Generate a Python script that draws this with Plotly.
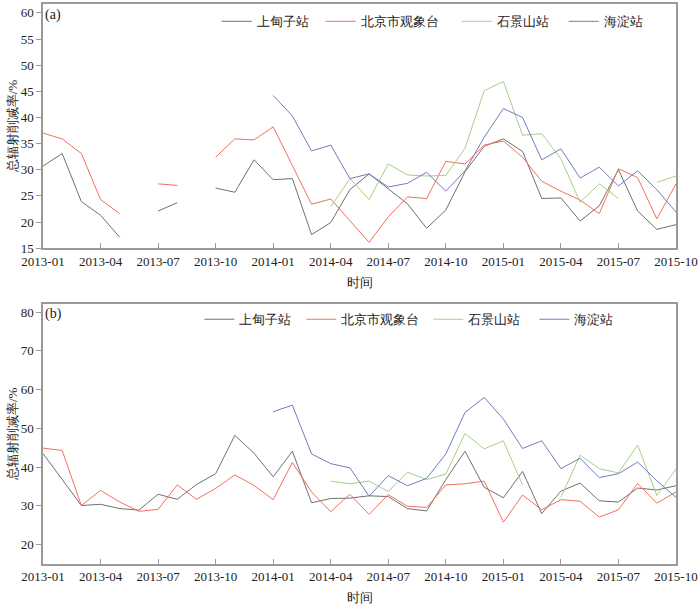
import plotly.graph_objects as go

months = [f"{y}-{m:02d}" for y in (2013, 2014, 2015) for m in range(1, 13)][:34]
tick_labels = months[::3]

names = ["上甸子站", "北京市观象台", "石景山站", "海淀站"]
colors = ["#707070", "#f2705c", "#a6cf86", "#7679bd"]

N = None
# panel (a)
a_sdz = [30.7, 33.1, 23.9, 21.3, 17.1, N, 22.1, 23.7, N, 26.5, 25.7, 31.9,
         28.1, 28.3, 17.6, 19.9, 26.2, 29.2, 26.4, 23.5, 18.8, 22.3, 29.6, 34.5,
         35.9, 33.5, 24.5, 24.6, 20.2, 23.1, 30.0, 22.1, 18.6, 19.5]
a_bj = [37.0, 35.9, 33.1, 24.3, 21.6, N, 27.3, 27.0, N, 32.4, 35.9, 35.7,
        38.2, 30.8, 23.4, 24.4, 20.2, 16.1, 21.0, 24.8, 24.5, 31.6, 31.1, 34.7,
        35.5, 32.4, 27.8, 25.9, 24.2, 21.6, 30.2, 28.5, 20.6, 27.3]
a_sjs = [N, N, N, N, N, N, N, N, N, N, N, N,
         N, N, N, 22.9, 28.3, 24.3, 31.1, 29.0, 28.8, 28.9, 34.1, 45.1,
         46.9, 36.6, 36.9, 32.1, 23.8, 27.3, 24.5, N, 27.6, 28.8]
a_hd = [N, N, N, N, N, N, N, N, N, N, N, N,
        44.2, 40.3, 33.6, 34.7, 28.3, 29.2, 26.7, 27.4, 29.5, 25.9, 29.8, 36.2,
        41.7, 40.0, 31.9, 34.0, 28.4, 30.5, 26.9, 29.8, 26.2, 21.9]
# panel (b)
b_sdz = [43.5, 36.8, 30.1, 30.4, 29.3, 28.9, 33.0, 31.7, 35.5, 38.3, 48.2, 43.6,
         37.5, 44.1, 30.8, 31.9, 32.0, 32.6, 32.4, 29.3, 28.7, 36.8, 44.1, 34.8,
         32.1, 38.9, 28.0, 33.8, 35.9, 31.3, 31.0, 34.6, 34.1, 35.2]
b_bj = [44.9, 44.3, 30.1, 34.0, 31.0, 28.6, 29.1, 35.4, 31.7, 34.5, 38.0, 35.3,
        31.6, 41.2, 33.6, 28.5, 33.0, 27.8, 32.9, 29.9, 29.6, 35.4, 35.7, 36.4,
        25.8, 32.8, 29.0, 31.6, 31.2, 27.1, 29.0, 35.8, 30.7, 33.6]
b_sjs = [N, N, N, N, N, N, N, N, N, N, N, N,
         N, N, N, 36.4, 35.7, 36.4, 33.7, 38.7, 36.8, 38.2, 48.7, 44.7,
         46.8, 35.4, N, 32.2, 43.1, 39.6, 38.5, 45.7, 32.7, 39.5]
b_hd = [N, N, N, N, N, N, N, N, N, N, N, N,
        54.3, 56.0, 43.4, 40.9, 39.8, 32.5, 37.8, 35.2, 37.1, 43.4, 54.1, 58.0,
        52.4, 44.8, 46.8, 39.6, 42.3, 37.3, 38.3, 41.3, 36.5, 32.2]

FONT = "Liberation Serif"
TXT = "#222222"
FRAME = "#9a9a9a"

legend_widths_a = [59, 91, 62, 40]
legend_widths_b = [57, 82, 61, 40]

fig = go.Figure()
for series, legend, xa, ya, lw in (
    ([a_sdz, a_bj, a_sjs, a_hd], "legend", "x", "y", legend_widths_a),
    ([b_sdz, b_bj, b_sjs, b_hd], "legend2", "x2", "y2", legend_widths_b),
):
    for nm, col, vals, w in zip(names, colors, series, lw):
        fig.add_trace(go.Scatter(
            x=months, y=vals, mode="lines", name=nm,
            line=dict(color=col, width=1), legend=legend, legendwidth=w,
            xaxis=xa, yaxis=ya, connectgaps=False,
        ))

xcommon = dict(
    type="category", range=[0, 33], tickmode="array", tickvals=tick_labels,
    ticktext=tick_labels, ticks="inside", ticklen=5, tickcolor=FRAME,
    showline=True, linecolor=FRAME, linewidth=1.5, mirror=True,
    showgrid=False, zeroline=False,
    tickfont=dict(family=FONT, size=13, color=TXT),
    title=dict(text="时间", font=dict(family=FONT, size=13, color=TXT), standoff=10),
)
ycommon = dict(
    ticks="outside", ticklen=5, tickcolor=FRAME,
    showline=True, linecolor=FRAME, linewidth=1.5, mirror=True,
    showgrid=False, zeroline=False,
    tickfont=dict(family=FONT, size=13, color=TXT),
    title=dict(text="总辐射削减率/%", font=dict(family=FONT, size=13, color=TXT), standoff=0),
)

legcommon = dict(
    orientation="h", font=dict(family=FONT, size=13, color=TXT),
    bgcolor="rgba(0,0,0,0)", xanchor="left", yanchor="middle",
    itemwidth=30, tracegroupgap=0,
)

fig.update_layout(
    width=700, height=605,
    margin=dict(l=43, r=21, t=2, b=38),
    paper_bgcolor="white", plot_bgcolor="white",
    xaxis=dict(xcommon, domain=[0, 1], anchor="y"),
    yaxis=dict(ycommon, domain=[0.564, 1], range=[15, 61.7], dtick=5, anchor="x"),
    xaxis2=dict(xcommon, domain=[0, 1], anchor="y2"),
    yaxis2=dict(ycommon, domain=[0, 0.465], range=[15, 82.2], tickvals=[20, 30, 40, 50, 60, 70, 80], anchor="x2"),
    legend=dict(legcommon, x=0.2744, y=0.969),
    legend2=dict(legcommon, x=0.247, y=0.437),
    annotations=[
        dict(text="(a)", xref="paper", yref="paper", x=0.0, y=0.999, xanchor="left", yanchor="top",
             showarrow=False, font=dict(family=FONT, size=14, color=TXT)),
        dict(text="(b)", xref="paper", yref="paper", x=0.0, y=0.464, xanchor="left", yanchor="top",
             showarrow=False, font=dict(family=FONT, size=14, color=TXT)),
    ],
)

fig.write_html("out.html", config={"displayModeBar": False},
               post_script="document.body.style.margin='0';")
